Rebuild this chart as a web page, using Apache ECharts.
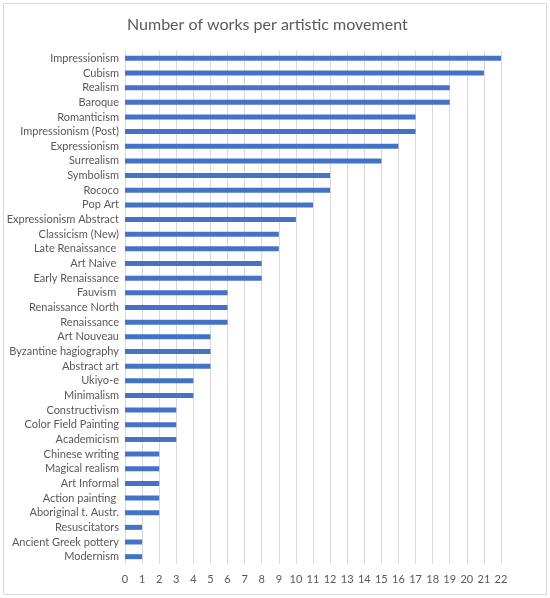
<!DOCTYPE html>
<html>
<head>
<meta charset="utf-8">
<script src="https://cdn.jsdelivr.net/npm/echarts@6/dist/echarts.min.js"></script>
<style>
  html, body { margin: 0; padding: 0; background: #fff; }
  #chart { width: 550px; height: 598px; }
</style>
</head>
<body>
<div id="chart"></div>
<script>
// categories from top to bottom
var movements = [
  'Impressionism', 'Cubism', 'Realism', 'Baroque', 'Romanticism',
  'Impressionism (Post)', 'Expressionism', 'Surrealism', 'Symbolism', 'Rococo',
  'Pop Art', 'Expressionism Abstract', 'Classicism (New)', 'Late Renaissance ', 'Art Naive ',
  'Early Renaissance', 'Fauvism ', 'Renaissance North', 'Renaissance', 'Art Nouveau',
  'Byzantine hagiography', 'Abstract art', 'Ukiyo-e', 'Minimalism', 'Constructivism',
  'Color Field Painting', 'Academicism', 'Chinese writing', 'Magical realism', 'Art Informal',
  'Action painting ', 'Aboriginal t. Austr.', 'Resuscitators', 'Ancient Greek pottery', 'Modernism'
];
var works = [
  22, 21, 19, 19, 17,
  17, 16, 15, 12, 12,
  11, 10, 9, 9, 8,
  8, 6, 6, 6, 5,
  5, 5, 4, 4, 3,
  3, 3, 2, 2, 2,
  2, 2, 1, 1, 1
];
var xMin = 0, xMax = 22, xStep = 1;

var font = 'Lato, "Noto Sans", sans-serif';
var chart = echarts.init(document.getElementById('chart'));

chart.setOption({
  animation: false,
  title: {
    text: 'Number of works per artistic movement',
    left: 122,
    top: 12,
    textStyle: { fontFamily: font, fontSize: 16, fontWeight: 'normal', color: '#595959' }
  },
  graphic: [{
    type: 'rect',
    shape: { x: 3.5, y: 3.5, width: 543, height: 591 },
    style: { fill: 'none', stroke: '#d9d9d9', lineWidth: 1 },
    silent: true
  }],
  grid: { left: 125, right: 49, top: 51, bottom: 34, containLabel: false },
  xAxis: {
    type: 'value',
    min: xMin, max: xMax, interval: xStep,
    axisLine: { show: false },
    axisTick: { show: false },
    splitLine: { lineStyle: { color: '#d9d9d9', width: 1 } },
    axisLabel: { fontFamily: font, fontSize: 11, color: '#595959', margin: 10 }
  },
  yAxis: {
    type: 'category',
    inverse: true,
    data: movements,
    axisLine: { show: true, lineStyle: { color: '#d9d9d9' } },
    axisTick: { show: false },
    axisLabel: { interval: 0, fontFamily: font, fontSize: 11, color: '#595959', margin: 6 }
  },
  series: [{
    type: 'bar',
    data: works,
    barWidth: 5,
    itemStyle: { color: '#4472c4' }
  }]
});
</script>
</body>
</html>
